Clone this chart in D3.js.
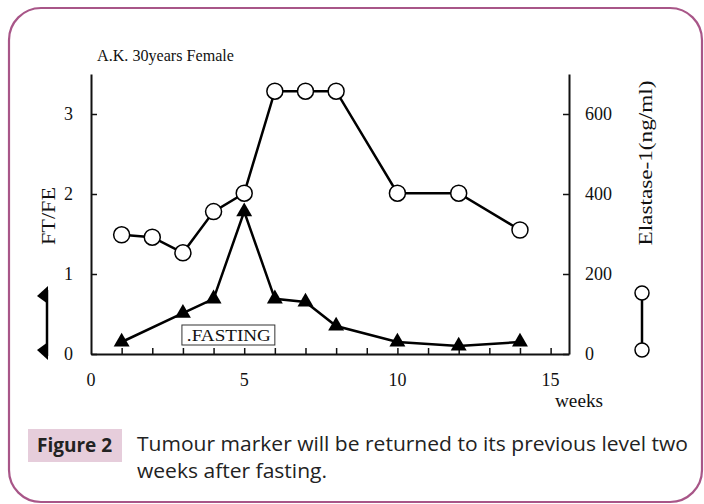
<!DOCTYPE html>
<html>
<head>
<meta charset="utf-8">
<script src="https://cdn.jsdelivr.net/npm/d3@7"></script>
<style>
  body { margin: 0; background: #fff; }
  svg { display: block; }
</style>
</head>
<body>
<script>
// data
const elastaseWeeks = [1, 2, 3, 4, 5, 6, 7, 8, 10, 12, 14];
const elastaseValues = [298, 292, 253, 356, 402, 657, 657, 657, 402, 402, 310];
const ftfeWeeks = [1, 3, 4, 5, 6, 7, 8, 10, 12, 14];
const ftfeValues = [0.15, 0.51, 0.69, 1.78, 0.69, 0.65, 0.35, 0.15, 0.1, 0.15];
const xTicks = [0, 5, 10, 15];
const leftTicks = [0, 1, 2, 3];
const rightTicks = [0, 200, 400, 600];
const fastingWeeks = [3, 6];

const W = 704, H = 504;
const serif = "'Liberation Serif', 'DejaVu Serif', serif";

const svg = d3.select("body").append("svg")
    .attr("width", W)
    .attr("height", H);

// frame
svg.append("rect")
    .attr("x", 9).attr("y", 8)
    .attr("width", 693).attr("height", 494)
    .attr("rx", 32).attr("ry", 32)
    .attr("fill", "none")
    .attr("stroke", "#a85688")
    .attr("stroke-width", 2.2);

// scales
const x = d3.scaleLinear().domain([0, 15.6]).range([91, 569]);
const yL = d3.scaleLinear().domain([0, 3.5]).range([354, 74]);
const yR = d3.scaleLinear().domain([0, 700]).range([354, 74]);

function styleAxis(g) {
    g.selectAll("path.domain").attr("stroke", "#111").attr("stroke-width", 2);
    g.selectAll(".tick line").attr("stroke", "#111").attr("stroke-width", 1.5);
    g.selectAll(".tick text")
        .attr("font-family", serif)
        .attr("font-size", 18)
        .attr("fill", "#111");
}

svg.append("g")
    .attr("transform", "translate(0,354)")
    .call(d3.axisBottom(x).tickValues(d3.range(1, 16)).tickSizeInner(-6).tickSizeOuter(0).tickFormat(""))
    .call(styleAxis);

// x tick labels only at 0,5,10,15
svg.append("g").selectAll("text")
    .data(xTicks)
    .join("text")
    .attr("x", d => x(d))
    .attr("y", 386)
    .attr("text-anchor", "middle")
    .attr("font-family", serif)
    .attr("font-size", 18)
    .attr("fill", "#111")
    .text(d => d);

svg.append("g")
    .attr("transform", "translate(91,0)")
    .call(d3.axisLeft(yL).tickValues(leftTicks).tickFormat(d3.format("d"))
        .tickSizeInner(-6).tickSizeOuter(0).tickPadding(18))
    .call(styleAxis);

svg.append("g")
    .attr("transform", "translate(569,0)")
    .call(d3.axisRight(yR).tickValues(rightTicks).tickSizeInner(-6).tickSizeOuter(0).tickPadding(16))
    .call(styleAxis);

// title + axis labels
svg.append("text")
    .attr("x", 97).attr("y", 61)
    .attr("font-family", serif).attr("font-size", 17).attr("fill", "#111")
    .attr("textLength", 137).attr("lengthAdjust", "spacingAndGlyphs")
    .text("A.K. 30years Female");

svg.append("text")
    .attr("transform", "translate(55,216) rotate(-90)")
    .attr("text-anchor", "middle")
    .attr("font-family", serif).attr("font-size", 18).attr("fill", "#111")
    .attr("textLength", 58).attr("lengthAdjust", "spacingAndGlyphs")
    .text("FT/FE");

svg.append("text")
    .attr("transform", "translate(652,163) rotate(-90)")
    .attr("text-anchor", "middle")
    .attr("font-family", serif).attr("font-size", 19).attr("fill", "#111")
    .attr("textLength", 165).attr("lengthAdjust", "spacingAndGlyphs")
    .text("Elastase-1(ng/ml)");

svg.append("text")
    .attr("x", 555).attr("y", 407)
    .attr("font-family", serif).attr("font-size", 18).attr("fill", "#111")
    .attr("textLength", 48).attr("lengthAdjust", "spacingAndGlyphs")
    .text("weeks");

// FASTING box
svg.append("rect")
    .attr("x", x(fastingWeeks[0]) - 1)
    .attr("y", 325)
    .attr("width", x(fastingWeeks[1]) - x(fastingWeeks[0]) + 1)
    .attr("height", 20)
    .attr("fill", "#fff")
    .attr("stroke", "#333")
    .attr("stroke-width", 1);
svg.append("text")
    .attr("x", (x(fastingWeeks[0]) + x(fastingWeeks[1])) / 2)
    .attr("y", 341)
    .attr("text-anchor", "middle")
    .attr("font-family", serif).attr("font-size", 17).attr("fill", "#111")
    .attr("textLength", 84).attr("lengthAdjust", "spacingAndGlyphs")
    .text(".FASTING");

// FT/FE series (triangles)
const ftData = ftfeWeeks.map((w, i) => ({ w: w, v: ftfeValues[i] }));
svg.append("path")
    .datum(ftData)
    .attr("fill", "none")
    .attr("stroke", "#000")
    .attr("stroke-width", 2.5)
    .attr("d", d3.line().x(d => x(d.w)).y(d => yL(d.v)));
svg.append("g").selectAll("path")
    .data(ftData)
    .join("path")
    .attr("transform", d => "translate(" + x(d.w) + "," + yL(d.v) + ")")
    .attr("d", d3.symbol(d3.symbolTriangle, 110))
    .attr("fill", "#000");

// Elastase series (open circles)
const elData = elastaseWeeks.map((w, i) => ({ w: w, v: elastaseValues[i] }));
svg.append("path")
    .datum(elData)
    .attr("fill", "none")
    .attr("stroke", "#000")
    .attr("stroke-width", 2.5)
    .attr("d", d3.line().x(d => x(d.w)).y(d => yR(d.v)));
svg.append("g").selectAll("circle")
    .data(elData)
    .join("circle")
    .attr("cx", d => x(d.w))
    .attr("cy", d => yR(d.v))
    .attr("r", 8)
    .attr("fill", "#fff")
    .attr("stroke", "#000")
    .attr("stroke-width", 1.5);

// legend key: triangles on the left
svg.append("line")
    .attr("x1", 47).attr("x2", 47)
    .attr("y1", 290).attr("y2", 356)
    .attr("stroke", "#000").attr("stroke-width", 2.5);
svg.append("g").selectAll("path")
    .data([[294, -1], [352, 1]])
    .join("path")
    .attr("d", d => d[1] < 0
        ? "M48," + (d[0] - 8) + "L37," + (d[0] + 2) + "L48," + (d[0] + 10) + "Z"
        : "M48," + (d[0] - 10) + "L37," + (d[0] - 2) + "L48," + (d[0] + 8) + "Z")
    .attr("fill", "#000");

// legend key: circles on the right
svg.append("line")
    .attr("x1", 642).attr("x2", 642)
    .attr("y1", 293).attr("y2", 350)
    .attr("stroke", "#000").attr("stroke-width", 2.5);
svg.append("g").selectAll("circle")
    .data([293, 350])
    .join("circle")
    .attr("cx", 642).attr("cy", d => d)
    .attr("r", 7)
    .attr("fill", "#fff")
    .attr("stroke", "#000")
    .attr("stroke-width", 1.5);

// caption
const sans = "'Open Sans', 'Noto Sans', sans-serif";
svg.append("rect")
    .attr("x", 28).attr("y", 429)
    .attr("width", 94).attr("height", 33)
    .attr("fill", "#e6cddb");
svg.append("text")
    .attr("x", 37).attr("y", 452)
    .attr("font-family", sans).attr("font-size", 19).attr("font-weight", "bold")
    .attr("fill", "#222")
    .text("Figure 2");
svg.append("text")
    .attr("x", 137).attr("y", 451)
    .attr("font-family", sans).attr("font-size", 20)
    .attr("fill", "#222")
    .attr("textLength", 551).attr("lengthAdjust", "spacingAndGlyphs")
    .text("Tumour marker will be returned to its previous level two");
svg.append("text")
    .attr("x", 137).attr("y", 478)
    .attr("font-family", sans).attr("font-size", 20)
    .attr("fill", "#222")
    .attr("textLength", 190).attr("lengthAdjust", "spacingAndGlyphs")
    .text("weeks after fasting.");
</script>
</body>
</html>
